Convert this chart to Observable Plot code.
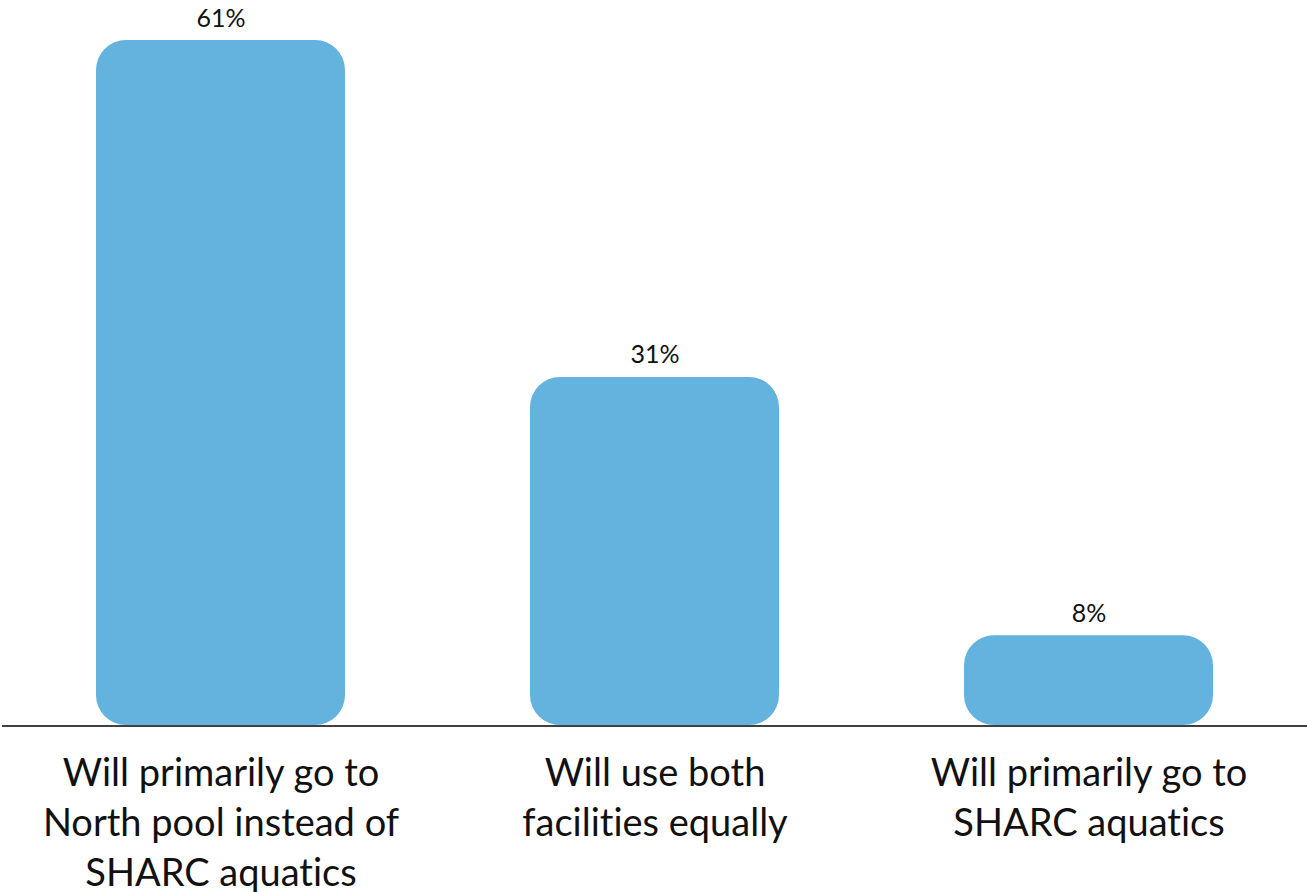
<!DOCTYPE html>
<html>
<head>
<meta charset="utf-8">
<script src="https://cdn.jsdelivr.net/npm/d3@7"></script>
<script src="https://cdn.jsdelivr.net/npm/@observablehq/plot@0.6"></script>
<style>
  html, body { margin: 0; padding: 0; background: #fff; }
  #chart svg { display: block; font-variant-ligatures: none; }
  #chart svg text { font-variant-ligatures: none; font-feature-settings: "liga" 0, "clig" 0; }
</style>
</head>
<body>
<div id="chart"></div>
<script>
const categories = [
  "Will primarily go to\nNorth pool instead of\nSHARC aquatics",
  "Will use both\nfacilities equally",
  "Will primarily go to\nSHARC aquatics"
];
const values = [61, 31, 8];
const valueLabels = ["61%", "31%", "8%"];

const data = categories.map((c, i) => ({category: c, value: values[i], label: valueLabels[i]}));
const font = "Lato, 'Noto Sans', sans-serif";

const chart = Plot.plot({
  width: 1307,
  height: 892,
  marginLeft: 2,
  marginRight: 0,
  marginTop: 40,
  marginBottom: 167,
  style: {fontFamily: font, background: "#fff", overflow: "visible"},
  x: {domain: categories, paddingInner: 0.4256, paddingOuter: 0.214, axis: null},
  y: {domain: [0, 61], axis: null},
  marks: [
    Plot.barY(data, {x: "category", y: "value", fill: "#64b2de", rx: 30}),
    Plot.ruleY([0], {stroke: "#000", strokeWidth: 1.5, dy: 0.5}),
    Plot.text(data, {x: "category", y: "value", text: "label", lineAnchor: "bottom", dy: -14, fontSize: 25, fill: "#111"}),
    Plot.text(data, {x: "category", y: () => 0, text: "category", lineAnchor: "top", dy: 25, fontSize: 38, lineHeight: 1.316, fill: "#111"})
  ]
});
document.getElementById("chart").appendChild(chart);
</script>
</body>
</html>
